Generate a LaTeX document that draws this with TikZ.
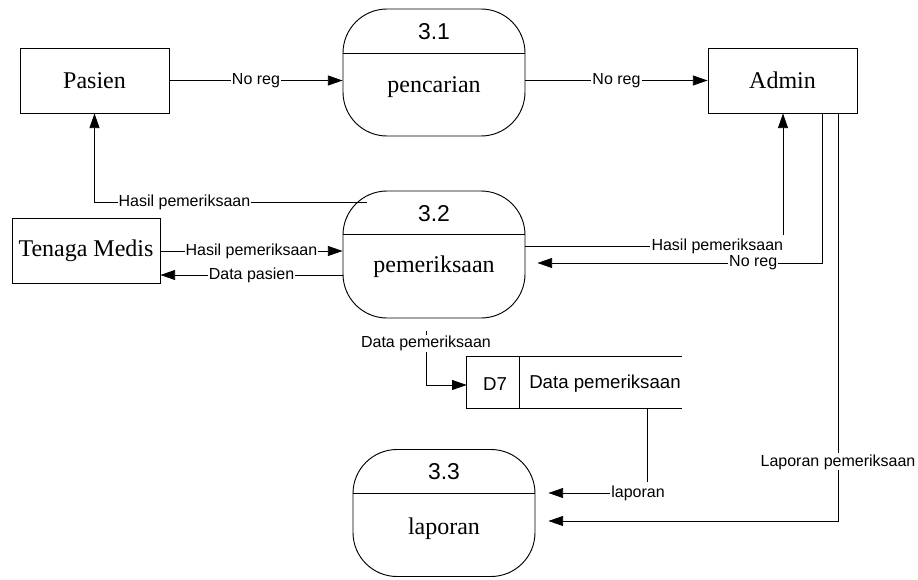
\documentclass[tikz,border=0pt]{standalone}
\usepackage{fontspec}
\setmainfont{Liberation Serif}
\newfontfamily\labelfont{Liberation Sans}
\usetikzlibrary{arrows.meta,calc}

\begin{document}
\begin{tikzpicture}[x=0.75pt,y=-0.75pt,
  every node/.style={inner sep=0pt},
  entity/.style={draw, line width=0.7pt, minimum width={#1*0.75pt},
    minimum height={65*0.75pt}, font=\fontsize{18}{20}\selectfont},
  process/.style={draw, line width=0.7pt, rounded corners=33pt,
    minimum width={182*0.75pt}, minimum height={127*0.75pt}},
  procnum/.style={font=\labelfont\fontsize{17.2}{19}\selectfont},
  procname/.style={font=\fontsize{18}{20}\selectfont},
  storetext/.style={font=\labelfont\fontsize{14}{16}\selectfont},
  flow/.style={line width=0.6pt, -{Triangle[length=11pt,width=7.5pt]}},
  lbl/.style={fill=white, inner sep=0.8pt,
    font=\labelfont\fontsize{12}{14}\selectfont}
]
\useasboundingbox (0,0) rectangle (918,579);

% external entities
\node[entity=149] (pasien) at (94.5,80.5) {Pasien};
\node[entity=149] (admin) at (782.5,80.5) {Admin};
\node[entity=148] (tenaga) at (86,250.5) {Tenaga Medis};

% processes
\node[process] (p31) at (434,72.5) {};
\draw[line width=0.7pt] (p31.west |- 0,53) -- (p31.east |- 0,53);
\node[procnum] (p31n) at (434,32) {3.1};
\node[procname] (p31t) at (434,87) {pencarian};

\node[process] (p32) at (434,254.5) {};
\draw[line width=0.7pt] (p32.west |- 0,234) -- (p32.east |- 0,234);
\node[procnum] (p32n) at (434,214) {3.2};
\node[procname] (p32t) at (434,267) {pemeriksaan};

\node[process] (p33) at (444,513) {};
\draw[line width=0.7pt] (p33.west |- 0,493) -- (p33.east |- 0,493);
\node[procnum] (p33n) at (444,472) {3.3};
\node[procname] (p33t) at (444,529) {laporan};

% data store
\node[minimum width={215*0.75pt}, minimum height={51*0.75pt}] (d7) at (574.5,382.5) {};
\draw[line width=0.7pt] (d7.north east) -- (d7.north west) -- (d7.south west) -- (d7.south east);
\draw[line width=0.7pt] ($(d7.north west)+(53,0)$) -- ($(d7.south west)+(53,0)$);
\node[storetext] (d7id) at (495,384) {D7};
\node[storetext, anchor=west] (d7name) at (529,384) {Data pemeriksaan};

% data flows
\draw[flow] (pasien.east) -- node[lbl] (f1) {No reg} (pasien.east -| p31.west);
\draw[flow] (p31.east |- admin.west) -- node[lbl] (f2) {No reg} (admin.west);

\coordinate (h32) at (367,202);
\draw[flow] (h32) -- node[lbl, pos=0.67] (f3) {Hasil pemeriksaan} (h32 -| pasien.south) -- (pasien.south);

\draw[flow] (tenaga.east |- 0,251) -- node[lbl] (f4) {Hasil pemeriksaan} (p32.west |- 0,251);
\draw[flow] (p32.west |- 0,275) -- node[lbl] (f5) {Data pasien} (tenaga.east |- 0,275);

\draw[flow] (p32.east |- 0,246) -- (783,246)
  node[lbl, anchor=east, xshift=1.2pt, inner ysep=2.5pt] (f6) {Hasil pemeriksaan}
  -- (admin.south -| 783,0);

\draw[flow, shorten >=9pt] (admin.south -| 822,0) -- (822,263)
  -- node[lbl, pos=0.232] (f7) {No reg} (p32.east |- 0,263);

\draw[flow, shorten >=9.75pt] (admin.south -| 838,0)
  -- node[lbl, pos=0.855] (f8) {Laporan pemeriksaan} (838,521)
  -- (p33.east |- 0,521);

\draw[flow, shorten <=9.75pt] (p32.south -| 426,0)
  -- node[lbl, pos=0.373] (f9) {Data pemeriksaan} (426,385)
  -- (d7.west |- 0,385);

\draw[flow, shorten >=9.75pt] (d7.south -| 647,0) -- (647,493)
  -- node[lbl, pos=0.08, inner ysep=2.5pt] (f10) {laporan} (p33.east |- 0,493);
\end{tikzpicture}
\end{document}
